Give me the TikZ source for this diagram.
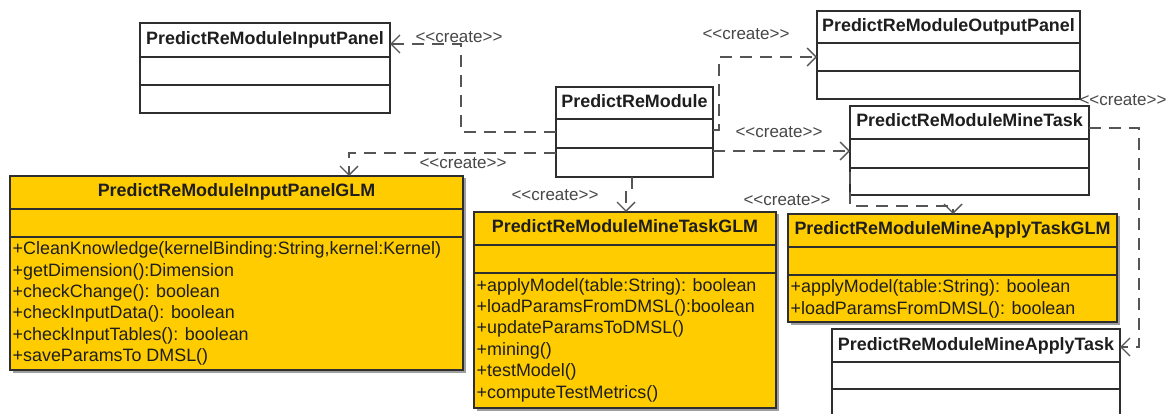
\documentclass[tikz,border=0pt]{standalone}
\usepackage{fontspec}
\setmainfont{Liberation Sans}
\usetikzlibrary{arrows.meta,calc}

\definecolor{glmfill}{HTML}{FFCC00}
\definecolor{edgeline}{HTML}{2E2E2E}
\definecolor{depline}{HTML}{555555}
\definecolor{inktext}{HTML}{1E1E1E}

% #1 name, #2 style, #3 left, #4 top, #5 right, #6 bottom
\newcommand\umlbox[6]{%
  \node[#2, minimum width=#5-#3, minimum height=#6-#4] (#1) at (#3,#4) {};}
% #1 box name, #2 y of separator
\newcommand\umlsep[2]{\draw[sepline] (#1.west |- 0,#2) -- (#1.east |- 0,#2);}
\newcommand\crt{<\kern0pt<create>\kern0pt>}

\begin{document}
\begin{tikzpicture}[x=1pt,y=-1pt,
  box/.style={draw=edgeline, line width=1.6pt, inner sep=0pt, outer sep=0pt, anchor=north west},
  plainbox/.style={box, fill=white},
  glmbox/.style={box, fill=glmfill},
  sepline/.style={draw=edgeline, line width=1.6pt},
  shadowfill/.style={fill=black!38},
  ttl/.style={font=\fontsize{17.9}{20}\selectfont\bfseries, text=inktext, inner sep=0pt, anchor=base},
  op/.style={font=\fontsize{17.9}{20}\selectfont, text=inktext, inner sep=0pt, anchor=base west},
  create/.style={font=\fontsize{17}{20}\selectfont, text=black!72, inner sep=0pt},
  dep/.style={draw=depline, line width=1.7pt, dash pattern=on 12pt off 8pt},
  depto/.style={dep, -{Straight Barb[length=9pt,width=18pt,line width=1.4pt]}},
]
\useasboundingbox (0,0) rectangle (1168,414);
\fill[white] (0,0) rectangle (1168,414);
\clip (0,0) rectangle (1168,414);

% ---- plain classes ----
\umlbox{inp}{plainbox}{140}{23}{390}{113}
\umlsep{inp}{57}\umlsep{inp}{85}
\node[ttl] (inp-t) at (265,44.5) {PredictReModuleInputPanel};

\umlbox{out}{plainbox}{817}{11}{1080}{99}
\umlsep{out}{43}\umlsep{out}{71}
\node[ttl] (out-t) at (948.5,31.5) {PredictReModuleOutputPanel};

\umlbox{prm}{plainbox}{556}{87}{713}{177}
\umlsep{prm}{119}\umlsep{prm}{148}
\node[ttl] (prm-t) at (634.5,107.5) {PredictReModule};

\umlbox{mt}{plainbox}{850}{106}{1089}{195}
\umlsep{mt}{139}\umlsep{mt}{168}
\node[ttl] (mt-t) at (969.5,127) {PredictReModuleMineTask};

\umlbox{apt}{plainbox}{832}{329}{1120}{430}
\umlsep{apt}{362}\umlsep{apt}{389}
\node[ttl] (apt-t) at (976,350) {PredictReModuleMineApplyTask};

% ---- GLM classes (filled, with drop shadow) ----
\fill[shadowfill] (12.5,178.5) rectangle (465.5,372.5);
\umlbox{igl}{glmbox}{10}{176}{463}{370}
\umlsep{igl}{209}\umlsep{igl}{237}
\node[ttl] (igl-t) at (236.5,197) {PredictReModuleInputPanelGLM};
\foreach \m [count=\i] in {%
  {+CleanKnowledge(kernelBinding:String,kernel:Kernel)},
  +getDimension():Dimension,
  +checkChange(): boolean,
  +checkInputData(): boolean,
  +checkInputTables(): boolean,
  +saveParamsTo DMSL()}
  \node[op] (igl-m\i) at (12.5,{255+21.3*(\i-1)}) {\m};

\fill[shadowfill] (476.5,214.5) rectangle (778.5,410.5);
\umlbox{mtg}{glmbox}{474}{212}{776}{408}
\umlsep{mtg}{245}\umlsep{mtg}{273}
\node[ttl] (mtg-t) at (625,233) {PredictReModuleMineTaskGLM};
\foreach \m [count=\i] in {%
  +applyModel(table:String): boolean,
  +loadParamsFromDMSL():boolean,
  +updateParamsToDMSL(),
  +mining(),
  +testModel(),
  +computeTestMetrics()}
  \node[op] (mtg-m\i) at (476.5,{291+21.45*(\i-1)}) {\m};

\fill[shadowfill] (790.5,216.5) rectangle (1119.5,324.5);
\umlbox{apg}{glmbox}{788}{214}{1117}{322}
\umlsep{apg}{247}\umlsep{apg}{275}
\node[ttl] (apg-t) at (952.5,235) {PredictReModuleMineApplyTaskGLM};
\foreach \m [count=\i] in {%
  +applyModel(table:String): boolean,
  +loadParamsFromDMSL(): boolean}
  \node[op] (apg-m\i) at (790.5,{292.7+21.6*(\i-1)}) {\m};

% ---- <<create>> dependencies ----
\draw[depto] (prm.west |- 0,132) -| (461,44) -- (inp.east |- 0,44);
\draw[depto] (prm.east |- 0,130) -| (719,57) -- (out.west |- 0,57);
\draw[depto] (prm.west |- 0,153) -| (igl.north -| 349,0);
\draw[depto] (prm.east |- 0,151) -- (mt.west |- 0,151);
\draw[depto] (prm.south -| 632,0) -- (632,192) -- (626,192) -- (mtg.north -| 626,0);
\draw[depto] (mt.west |- 0,172) -- (850,206) -| (apg.north -| 953,0);
\draw[depto] (mt.east |- 0,128) -| (1139,347) -- (apt.east |- 0,347);

\node[create] (c-inp) at (459,37) {\crt};
\node[create] (c-out) at (746,34) {\crt};
\node[create] (c-igl) at (463,163) {\crt};
\node[create] (c-mt)  at (779,132) {\crt};
\node[create] (c-mtg) at (555,195) {\crt};
\node[create] (c-apg) at (787,200) {\crt};
\node[create] (c-apt) at (1123,100) {\crt};
\end{tikzpicture}
\end{document}
